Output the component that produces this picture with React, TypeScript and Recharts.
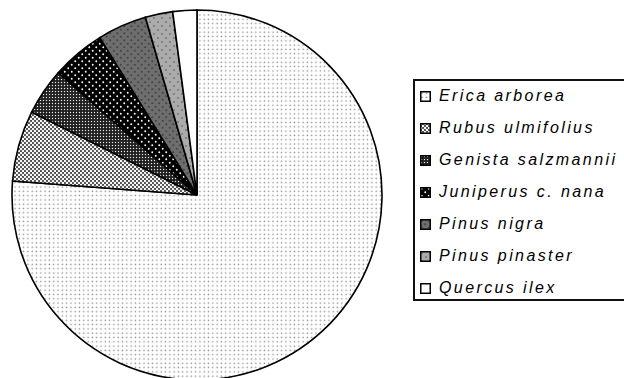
import React from 'react';
import { PieChart, Pie, Cell, Legend } from 'recharts';

// Share of each species (%), clockwise from 12 o'clock
const species = [
  'Erica arborea',
  'Rubus ulmifolius',
  'Genista salzmannii',
  'Juniperus c. nana',
  'Pinus nigra',
  'Pinus pinaster',
  'Quercus ilex',
];
const shares = [76.2, 6.2, 4.1, 4.7, 4.3, 2.4, 2.1];
const fillIds = ['pEri', 'pRub', 'pGen', 'pJun', 'pNig', 'pPin', 'pQue'];

const data = species.map((name, i) => ({ name, value: shares[i], fill: `url(#${fillIds[i]})` }));

const FONT = '"Liberation Sans", Arial, sans-serif';

const Patterns = () => (
  <defs>
    <pattern id="pEri" patternUnits="userSpaceOnUse" width="4.3" height="4.3">
      <rect width="4.3" height="4.3" fill="#ffffff" />
      <circle cx="2.1" cy="2.1" r="0.75" fill="#8c8c8c" />
    </pattern>
    <pattern id="pRub" patternUnits="userSpaceOnUse" width="4" height="4">
      <rect width="4" height="4" fill="#3c3c3c" />
      <circle cx="1" cy="1" r="1.15" fill="#ffffff" />
      <circle cx="3" cy="3" r="1.15" fill="#ffffff" />
      <circle cx="3" cy="1" r="0.6" fill="#9a9a9a" />
      <circle cx="1" cy="3" r="0.6" fill="#9a9a9a" />
    </pattern>
    <pattern id="pGen" patternUnits="userSpaceOnUse" width="3" height="3">
      <rect width="3" height="3" fill="#1e1e1e" />
      <rect x="0.9" y="0.9" width="1.2" height="1.2" fill="#e8e8e8" />
    </pattern>
    <pattern id="pJun" patternUnits="userSpaceOnUse" width="7" height="7">
      <rect width="7" height="7" fill="#000000" />
      <circle cx="1.75" cy="1.75" r="0.95" fill="#ffffff" />
      <circle cx="5.25" cy="5.25" r="0.95" fill="#ffffff" />
    </pattern>
    <pattern id="pNig" patternUnits="userSpaceOnUse" width="7" height="7">
      <rect width="7" height="7" fill="#6e6e6e" />
      <circle cx="1.75" cy="1.75" r="1.1" fill="#444444" />
      <circle cx="5.25" cy="5.25" r="1.1" fill="#444444" />
    </pattern>
    <pattern id="pPin" patternUnits="userSpaceOnUse" width="8" height="8">
      <rect width="8" height="8" fill="#ababab" />
      <circle cx="2" cy="2" r="1.1" fill="#7a7a7a" />
      <circle cx="6" cy="6" r="1.1" fill="#7a7a7a" />
    </pattern>
    <pattern id="pQue" patternUnits="userSpaceOnUse" width="4" height="4">
      <rect width="4" height="4" fill="#ffffff" />
    </pattern>
  </defs>
);

const ROW_H = 32;

const renderLegend = () => (
  <div
    style={{
      border: '2px solid #111',
      width: 240,
      height: 222,
      boxSizing: 'border-box',
      background: '#fff',
      position: 'relative',
    }}
  >
    {data.map((d, i) => (
      <div
        key={d.name}
        style={{
          position: 'absolute',
          left: 0,
          top: i * ROW_H - 1,
          display: 'flex',
          alignItems: 'center',
          height: ROW_H,
          paddingLeft: 5,
        }}
      >
        <svg width="11" height="11" style={{ marginRight: 8, flex: 'none' }}>
          <rect x="0.75" y="0.75" width="9.5" height="9.5" fill={d.fill} stroke="#000" strokeWidth="1.5" />
        </svg>
        <span
          style={{
            fontFamily: FONT,
            fontStyle: 'italic',
            fontSize: 16,
            letterSpacing: 2.4,
            color: '#000',
            whiteSpace: 'nowrap',
          }}
        >
          {d.name}
        </span>
      </div>
    ))}
  </div>
);

export default function App() {
  return (
    <div
      style={{
        position: 'absolute',
        left: 0,
        top: 0,
        width: 624,
        height: 378,
        overflow: 'hidden',
        background: '#fff',
      }}
    >
      <PieChart width={624} height={378} margin={{ top: 0, right: 0, bottom: 0, left: 0 }}>
        <Patterns />
        <Pie
          data={data}
          dataKey="value"
          nameKey="name"
          cx={197}
          cy={195}
          outerRadius={185}
          startAngle={90}
          endAngle={-270}
          stroke="#000"
          strokeWidth={1.6}
          isAnimationActive={false}
          labelLine={false}
        >
          {data.map((d) => (
            <Cell key={d.name} fill={d.fill} />
          ))}
        </Pie>
        <Legend
          layout="vertical"
          content={renderLegend}
          wrapperStyle={{ position: 'absolute', left: 413, top: 79, width: 240, height: 222, bottom: 'auto' }}
        />
      </PieChart>
    </div>
  );
}
